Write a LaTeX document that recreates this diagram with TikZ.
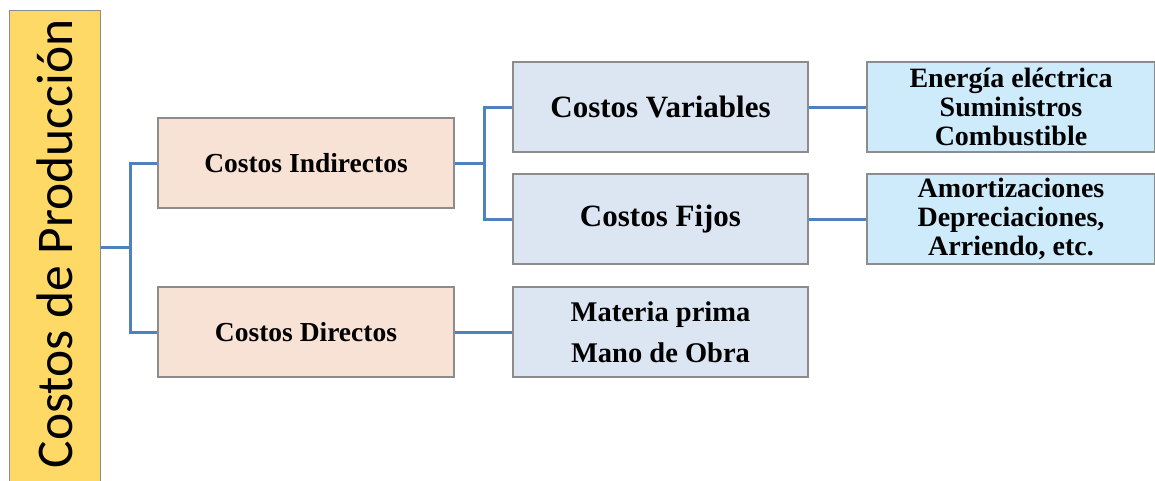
\documentclass[tikz,border=0pt]{standalone}
\usepackage{fontspec}
\setmainfont{Liberation Serif}
\newfontfamily\calibri{Carlito}
\definecolor{gold}{HTML}{FFD966}
\definecolor{peach}{HTML}{F8E2D5}
\definecolor{paleblue}{HTML}{DCE6F2}
\definecolor{skyblue}{HTML}{CDEBFB}
\definecolor{edgegray}{HTML}{8C8C8C}
\definecolor{linkblue}{HTML}{4F81BD}
\tikzset{
  box/.style={draw=edgegray, line width=1.3pt, minimum height=90pt, inner sep=0pt,
              align=center, font=\bfseries},
  levelone/.style={box, fill=peach, minimum width=296pt, font=\bfseries\fontsize{27.5}{30}\selectfont},
  leveltwo/.style={box, fill=paleblue, minimum width=295pt, font=\bfseries\fontsize{31}{34}\selectfont},
  items/.style={box, fill=paleblue, minimum width=295pt, font=\bfseries\fontsize{28.5}{41}\selectfont},
  detail/.style={box, fill=skyblue, minimum width=288pt, font=\bfseries\fontsize{28}{29}\selectfont},
  link/.style={draw=linkblue, line width=3pt},
}
\begin{document}
\begin{tikzpicture}[x=1pt, y=-1pt]
\useasboundingbox (0,0) rectangle (1155,480);
\fill[white] (0,0) rectangle (1155,480);

% root column
\node[draw=edgegray, line width=1pt, fill=gold, minimum width=91pt, minimum height=480pt,
      inner sep=0pt] (prod) at (54.5,250) {};
\node[rotate=90, anchor=base, inner sep=0pt, font=\calibri\fontsize{51.5}{55}\selectfont]
      (prodlabel) at (72,244) {Costos de Producción};

% first level
\node[levelone] (ind) at (306,163) {Costos Indirectos};
\node[levelone] (dir) at (306,332) {Costos Directos};

% second level
\node[leveltwo] (var) at (660.5,107) {Costos Variables};
\node[leveltwo] (fij) at (660.5,219) {Costos Fijos};
\node[items] (mp) at (660.5,332) {Materia prima\\Mano de Obra};

% details
\node[detail] (rv) at (1011,107) {Energía eléctrica\\Suministros\\Combustible};
\node[detail] (rf) at (1011,219) {Amortizaciones\\Depreciaciones,\\Arriendo, etc.};

% connectors
\coordinate (j1) at (130,247);
\coordinate (j2) at (484,163);
\draw[link] (prod.east |- j1) -- (j1);
\draw[link] (ind.west) -| (j1) |- (dir.west);
\draw[link] (ind.east) -- (j2);
\draw[link] (var.west) -| (j2) |- (fij.west);
\draw[link] (var.east) -- (rv.west);
\draw[link] (fij.east) -- (rf.west);
\draw[link] (dir.east) -- (mp.west);
\end{tikzpicture}
\end{document}
